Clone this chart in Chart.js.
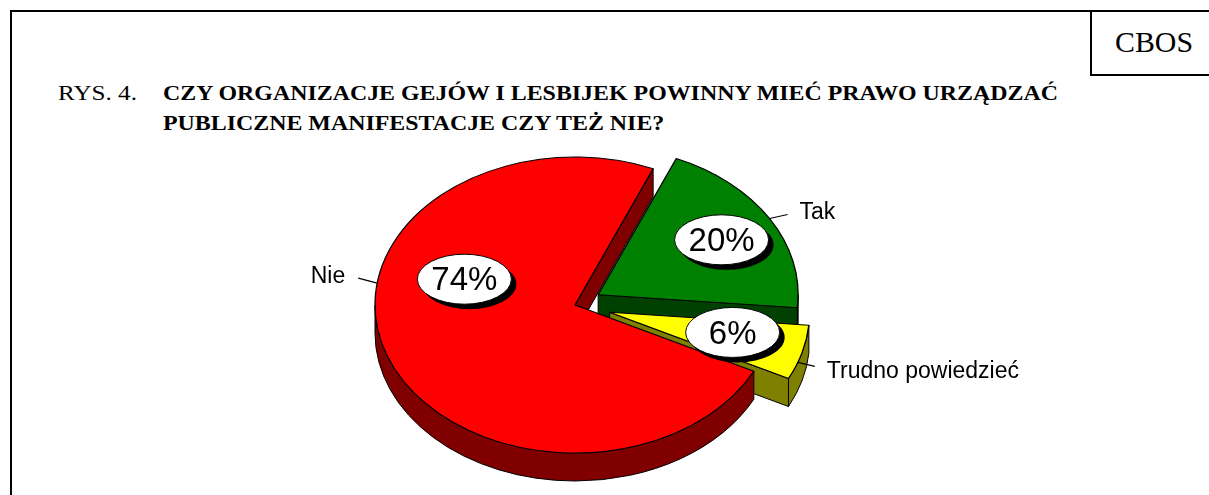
<!DOCTYPE html>
<html lang="pl">
<head>
<meta charset="utf-8">
<title>CBOS Rys. 4</title>
<script src="https://cdn.jsdelivr.net/npm/chart.js@4.4.1/dist/chart.umd.min.js"></script>
<style>
  html, body { margin:0; padding:0; background:#fff; }
  body { width:1209px; height:495px; position:relative; overflow:hidden; }
  .frame { position:absolute; left:10px; top:10px; width:1199px; height:485px; border-left:2px solid #000; border-top:2px solid #000; box-sizing:border-box; }
  .cbos { position:absolute; left:1090px; top:10px; width:119px; height:66px; border-left:2px solid #000; border-bottom:2px solid #000; box-sizing:border-box; }
  .t { position:absolute; white-space:nowrap; font-family:"Liberation Serif","Times New Roman",serif; color:#000; transform-origin:0 0; }
  #cbosText { left:1115px; top:25px; font-size:30px; line-height:normal; }
  #rys { left:58px; top:78px; font-size:20px; line-height:30px; }
  #q1 { left:163px; top:78px; font-size:20px; line-height:30px; font-weight:bold; }
  #q2 { left:163px; top:108px; font-size:20px; line-height:30px; font-weight:bold; }
  #chart { position:absolute; left:0; top:0; }
</style>
</head>
<body>
<div class="frame"></div>
<div class="cbos"></div>
<span class="t" id="cbosText" data-w="78">CBOS</span>
<span class="t" id="rys" data-w="79">RYS. 4.</span>
<span class="t" id="q1" data-w="895">CZY ORGANIZACJE GEJÓW I LESBIJEK POWINNY MIEĆ PRAWO URZĄDZAĆ</span>
<span class="t" id="q2" data-same="q1">PUBLICZNE MANIFESTACJE CZY TEŻ NIE?</span>
<canvas id="chart" width="1209" height="495"></canvas>
<script>
// ---- data ----
const categories = ['Tak', 'Trudno powiedzieć', 'Nie'];
const values = [20, 6, 74];
const percentLabels = ['20%', '6%', '74%'];

// ---- styles ----
const topColors = ['#008000', '#FFFF00', '#FF0000'];
const sideColors = ['#004000', '#808000', '#800000'];
const explode = [27, 36, 0];          // px, pre-squash
const SQUASH = 0.74;
const DEPTH = 28;
const pctRadius = [0.72, 0.63, 0.58];
const pctAngleShift = [0, -3.3, 37.7];   // degrees
const leaderAngleShift = [0, 4, 28.7];

// fit title widths
const scales = {};
document.querySelectorAll('.t').forEach(el => {
  let s;
  if (el.dataset.same) s = scales[el.dataset.same];
  else s = (+el.dataset.w) / el.getBoundingClientRect().width;
  scales[el.id] = s;
  el.style.transform = 'scaleX(' + s + ')';
});

function geom(arc, i, cy) {
  const mid = (arc.startAngle + arc.endAngle) / 2;
  const dx = explode[i] * Math.cos(mid), dy = explode[i] * Math.sin(mid);
  return {
    mid, dx, dy,
    cx: arc.x + dx,
    cy: cy + (arc.y + dy - cy) * SQUASH,
    R: arc.outerRadius,
    t0: arc.startAngle, t1: arc.endAngle
  };
}
function pt(g, t, r) {
  r = r === undefined ? g.R : r;
  return { x: g.cx + r * Math.cos(t), y: g.cy + r * SQUASH * Math.sin(t) };
}

function drawWalls(ctx, g, i) {
  ctx.save();
  ctx.fillStyle = sideColors[i];
  ctx.strokeStyle = '#000';
  ctx.lineWidth = 1;
  ctx.lineJoin = 'round';
  const ry = g.R * SQUASH;
  const face = t => {
    const p = pt(g, t);
    ctx.beginPath();
    ctx.moveTo(g.cx, g.cy);
    ctx.lineTo(p.x, p.y);
    ctx.lineTo(p.x, p.y + DEPTH);
    ctx.lineTo(g.cx, g.cy + DEPTH);
    ctx.closePath();
    ctx.fill(); ctx.stroke();
  };
  if (Math.cos(g.t0) < 0) face(g.t0);
  if (Math.cos(g.t1) > 0) face(g.t1);
  for (let n = -1; n <= 2; n++) {
    const a = Math.max(g.t0, 2 * Math.PI * n);
    const b = Math.min(g.t1, 2 * Math.PI * n + Math.PI);
    if (b > a) {
      ctx.beginPath();
      ctx.ellipse(g.cx, g.cy, g.R, ry, 0, a, b, false);
      ctx.ellipse(g.cx, g.cy + DEPTH, g.R, ry, 0, b, a, true);
      ctx.closePath();
      ctx.fill(); ctx.stroke();
    }
  }
  ctx.restore();
}

const pie3d = {
  id: 'pie3d',
  beforeDatasetsDraw(chart) {
    const meta = chart.getDatasetMeta(0);
    const cy = (chart.chartArea.top + chart.chartArea.bottom) / 2;
    meta.data.forEach((arc, i) => {
      if (arc._wrapped3d) return;
      arc._wrapped3d = true;
      const orig = arc.draw;
      arc.draw = function (ctx, area) {
        const g = geom(this, i, cy);
        drawWalls(ctx, g, i);
        ctx.save();
        ctx.translate(g.dx, cy * (1 - SQUASH) + SQUASH * g.dy);
        ctx.scale(1, SQUASH);
        orig.call(this, ctx, area);
        ctx.restore();
      };
    });
  },
  afterDatasetsDraw(chart) {
    const ctx = chart.ctx;
    const meta = chart.getDatasetMeta(0);
    const cy = (chart.chartArea.top + chart.chartArea.bottom) / 2;
    const deg = Math.PI / 180;
    meta.data.forEach((arc, i) => {
      const g = geom(arc, i, cy);
      // category label with leader line
      const rim = pt(g, g.mid + leaderAngleShift[i] * deg);
      const right = Math.cos(g.mid + leaderAngleShift[i] * deg) > 0;
      let end;
      if (i === 0) end = { x: rim.x + 18, y: rim.y - 4 };
      else if (i === 1) end = { x: rim.x + 17, y: rim.y + 4 };
      else end = { x: rim.x - 19, y: rim.y - 5 };
      ctx.save();
      ctx.strokeStyle = '#000';
      ctx.lineWidth = 1.2;
      ctx.beginPath(); ctx.moveTo(rim.x, rim.y); ctx.lineTo(end.x, end.y); ctx.stroke();
      ctx.fillStyle = '#000';
      ctx.font = '23px "Liberation Sans", Arial, sans-serif';
      ctx.textBaseline = 'alphabetic';
      if (right) {
        ctx.textAlign = 'left';
        ctx.fillText(categories[i], end.x + 12, end.y + (i === 1 ? 12 : 5));
      } else {
        ctx.textAlign = 'right';
        ctx.fillText(categories[i], end.x - 13, end.y + 5);
      }
      ctx.restore();

      // percentage bubble
      const p = pt(g, g.mid + pctAngleShift[i] * deg, pctRadius[i] * g.R);
      ctx.save();
      ctx.fillStyle = '#000';
      ctx.beginPath(); ctx.ellipse(p.x + 5, p.y + 5, 47, 25, 0, 0, 2 * Math.PI); ctx.fill();
      ctx.fillStyle = '#fff';
      ctx.strokeStyle = '#000';
      ctx.lineWidth = 1;
      ctx.beginPath(); ctx.ellipse(p.x, p.y, 47, 25, 0, 0, 2 * Math.PI); ctx.fill(); ctx.stroke();
      ctx.fillStyle = '#000';
      ctx.font = '33px "Liberation Sans", Arial, sans-serif';
      ctx.textAlign = 'center';
      ctx.textBaseline = 'middle';
      ctx.fillText(percentLabels[i], p.x, p.y + 2);
      ctx.restore();
    });
  }
};

new Chart(document.getElementById('chart'), {
  type: 'pie',
  data: {
    labels: categories,
    datasets: [{
      data: values,
      backgroundColor: topColors,
      borderColor: '#000',
      borderWidth: 1.3,
      clip: false
    }]
  },
  options: {
    responsive: false,
    devicePixelRatio: 1,
    animation: false,
    events: [],
    rotation: 23,
    radius: 200,
    layout: { padding: { left: 0, right: 59, top: 115, bottom: 0 } },
    plugins: { legend: { display: false }, tooltip: { enabled: false } }
  },
  plugins: [pie3d]
});
</script>
</body>
</html>
